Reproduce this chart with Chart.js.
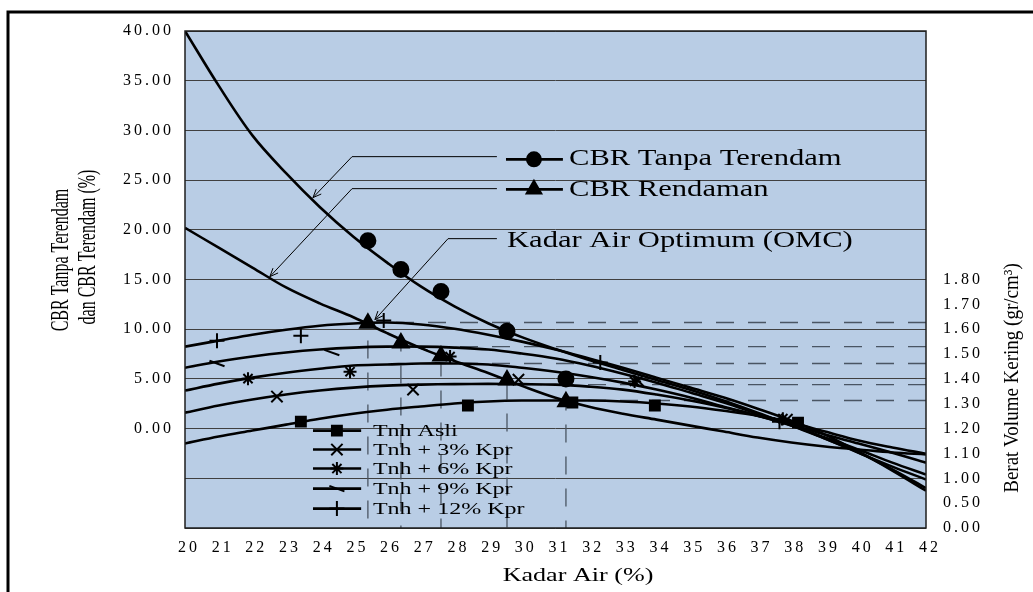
<!DOCTYPE html>
<html>
<head>
<meta charset="utf-8">
<script src="https://cdn.jsdelivr.net/npm/chart.js@4.4.1/dist/chart.umd.min.js"></script>
<style>
  html, body { margin: 0; padding: 0; background: #fff; }
  #wrap { width: 1033px; height: 592px; }
</style>
</head>
<body>
<div id="wrap"><canvas id="cbrChart"></canvas></div>
<script>
// kadar air (%) used for the trendlines
const waterContent = [20, 21, 22, 23, 24, 25, 26, 27, 28, 29, 30, 31, 32, 33, 34, 35, 36, 37, 38, 39, 40, 41, 42];

// CBR trendlines (%), left axis
const cbrUnsoakedTrend = [40.0, 34.5, 29.5, 25.7, 22.3, 19.3, 16.7, 14.3, 12.3, 10.6, 9.2, 8.0, 6.9, 5.9, 4.9, 3.9, 2.8, 1.6, 0.3, -1.0, -2.4, -4.1, -6.0];
const cbrSoakedTrend = [20.2, 18.2, 16.2, 14.2, 12.6, 11.2, 9.6, 8.1, 6.8, 5.6, 4.3, 3.1, 2.2, 1.5, 0.9, 0.3, -0.3, -0.9, -1.4, -1.8, -2.1, -2.4, -2.6];

// berat volume kering trendlines (gr/cm3), right axis
const densAsliTrend = [1.140, 1.168, 1.192, 1.216, 1.240, 1.260, 1.276, 1.289, 1.301, 1.309, 1.313, 1.313, 1.313, 1.309, 1.301, 1.289, 1.272, 1.252, 1.224, 1.188, 1.152, 1.124, 1.099];
const dens3Trend = [1.264, 1.293, 1.317, 1.337, 1.353, 1.365, 1.373, 1.377, 1.379, 1.380, 1.379, 1.377, 1.369, 1.357, 1.337, 1.313, 1.285, 1.252, 1.216, 1.176, 1.140, 1.103, 1.063];
const dens6Trend = [1.353, 1.381, 1.405, 1.425, 1.441, 1.454, 1.458, 1.462, 1.462, 1.458, 1.445, 1.429, 1.409, 1.385, 1.357, 1.325, 1.288, 1.252, 1.212, 1.164, 1.115, 1.063, 1.015];
const dens9Trend = [1.445, 1.470, 1.490, 1.506, 1.518, 1.526, 1.530, 1.530, 1.526, 1.518, 1.502, 1.482, 1.454, 1.421, 1.385, 1.345, 1.305, 1.260, 1.216, 1.160, 1.103, 1.047, 0.995];
const dens12Trend = [1.530, 1.554, 1.578, 1.598, 1.614, 1.623, 1.627, 1.619, 1.602, 1.578, 1.550, 1.518, 1.482, 1.445, 1.405, 1.365, 1.325, 1.280, 1.232, 1.176, 1.107, 1.031, 0.950];

// OMC of each mix (12%, 9%, 6%, 3%, asli) with CBR and max dry density
const omcX = [25.43, 26.41, 27.6, 29.56, 31.31];
const cbrUnsoaked = [18.9, 16.0, 13.8, 9.8, 5.0];
const cbrSoaked = [10.6, 8.6, 7.3, 4.9, 2.7];
const maxDensity = [1.627, 1.530, 1.462, 1.377, 1.313];

// measured density points
const asliX = [23.44, 28.4, 31.5, 33.95, 38.2];
const asliY = [1.228, 1.293, 1.305, 1.293, 1.224];
const kpr3X = [22.73, 26.77, 29.9, 33.45, 37.87];
const kpr3Y = [1.329, 1.357, 1.397, 1.393, 1.236];
const kpr6X = [21.87, 24.9, 27.87, 33.35, 37.75];
const kpr6Y = [1.401, 1.429, 1.490, 1.390, 1.240];
const kpr9X = [20.95, 24.36, 26.97, 37.7];
const kpr9Y = [1.462, 1.506, 1.526, 1.232];
const kpr12X = [20.95, 23.44, 25.9, 32.33, 37.65];
const kpr12Y = [1.554, 1.574, 1.635, 1.466, 1.228];

const soilLabels = ['Tnh Asli', 'Tnh + 3% Kpr', 'Tnh + 6% Kpr', 'Tnh + 9% Kpr', 'Tnh + 12% Kpr'];
const densityTickValues = [0.8, 0.9, 1.0, 1.1, 1.2, 1.3, 1.4, 1.5, 1.6, 1.7, 1.8];
const densityTickLabels = ['0.00', '0.50', '1.00', '1.10', '1.20', '1.30', '1.40', '1.50', '1.60', '1.70', '1.80'];

const SERIF = '"Liberation Serif", "Times New Roman", serif';
Chart.defaults.font.family = SERIF;
Chart.defaults.color = '#000';

const soilStyles = [
    {pointStyle: 'rect', radius: 7, rotation: 0},
    {pointStyle: 'crossRot', radius: 8, rotation: 0},
    {pointStyle: 'star', radius: 6.5, rotation: 0},
    {pointStyle: 'line', radius: 8, rotation: 20},
    {pointStyle: 'cross', radius: 7.5, rotation: 0}
];

function trend(values, axis) {
    return {
        type: 'line', yAxisID: axis, order: 1,
        data: waterContent.map((x, i) => ({x: x, y: values[i]})),
        borderColor: '#000', borderWidth: 2.6, pointRadius: 0, tension: 0.35, fill: false
    };
}

function marks(xs, ys, axis, style) {
    return {
        type: 'scatter', yAxisID: axis, order: 0,
        data: xs.map((x, i) => ({x: x, y: ys[i]})),
        pointStyle: style.pointStyle, pointRadius: style.radius, pointRotation: style.rotation,
        borderColor: '#000', backgroundColor: '#000', borderWidth: 2
    };
}

function omcGuide(i) {
    return {
        type: 'line', yAxisID: 'y2', order: 2,
        data: [{x: 42, y: maxDensity[i]}, {x: omcX[i], y: maxDensity[i]}, {x: omcX[i], y: 0.8}],
        borderColor: '#4a5563', borderWidth: 1.3, borderDash: [18, 14], pointRadius: 0, tension: 0
    };
}

function stretchText(ctx, str, x, y, sx, font, align, baseline) {
    ctx.save();
    ctx.font = font;
    ctx.textAlign = align;
    ctx.textBaseline = baseline;
    ctx.translate(x, y);
    ctx.scale(sx, 1);
    ctx.fillText(str, 0, 0);
    ctx.restore();
}

function upText(ctx, str, x, y, sy, font) {
    ctx.save();
    ctx.font = font;
    ctx.textAlign = 'center';
    ctx.textBaseline = 'middle';
    ctx.translate(x, y);
    ctx.rotate(-Math.PI / 2);
    ctx.scale(1, sy);
    ctx.fillText(str, 0, 0);
    ctx.restore();
}

const overlay = {
    id: 'overlay',
    beforeDraw(chart) {
        const {ctx, chartArea: a} = chart;
        ctx.save();
        ctx.fillStyle = '#b9cde5';
        ctx.fillRect(a.left, a.top, a.right - a.left, a.bottom - a.top);
        ctx.restore();
        // tick labels in the picture are drawn wide
        ctx.letterSpacing = '3px';
    },
    beforeDatasetsDraw(chart) {
        chart.ctx.letterSpacing = '0px';
    },
    afterDraw(chart) {
        const {ctx, chartArea: a, scales} = chart;
        const X = v => scales.x.getPixelForValue(v);
        const Y = v => scales.y.getPixelForValue(v);
        ctx.save();
        ctx.letterSpacing = '0px';

        ctx.strokeStyle = '#1e1e1e';
        ctx.lineWidth = 1.5;
        ctx.strokeRect(a.left, a.top, a.right - a.left, a.bottom - a.top);

        ctx.strokeStyle = '#000';
        ctx.lineWidth = 3;
        ctx.beginPath();
        ctx.moveTo(8, chart.height);
        ctx.lineTo(8, 12);
        ctx.lineTo(chart.width, 12);
        ctx.stroke();

        ctx.fillStyle = '#000';
        stretchText(ctx, 'Kadar Air (%)', 578, 576, 1.45, '18px ' + SERIF, 'center', 'middle');
        upText(ctx, 'CBR Tanpa Terendam', 61, 260, 1.6, '16px ' + SERIF);
        upText(ctx, 'dan CBR Terendam (%)', 88, 247, 1.6, '16px ' + SERIF);
        upText(ctx, 'Berat Volume Kering (gr/cm³)', 1013, 378, 1.1, '19px ' + SERIF);

        // leader lines with arrows
        const leaders = [
            [[29.26, 27.36], [24.96, 27.36], [23.80, 23.24]],
            [[29.26, 24.14], [24.96, 24.14], [22.52, 15.29]],
            [[29.26, 19.11], [27.81, 19.11], [25.64, 10.97]]
        ];
        ctx.lineWidth = 1;
        leaders.forEach(pts => {
            ctx.beginPath();
            pts.forEach((p, i) => i ? ctx.lineTo(X(p[0]), Y(p[1])) : ctx.moveTo(X(p[0]), Y(p[1])));
            ctx.stroke();
            const [px, py] = pts[1];
            const [tx, ty] = pts[2];
            const ang = Math.atan2(Y(ty) - Y(py), X(tx) - X(px));
            ctx.beginPath();
            ctx.moveTo(X(tx) - 9 * Math.cos(ang - 0.4), Y(ty) - 9 * Math.sin(ang - 0.4));
            ctx.lineTo(X(tx), Y(ty));
            ctx.lineTo(X(tx) - 9 * Math.cos(ang + 0.4), Y(ty) - 9 * Math.sin(ang + 0.4));
            ctx.stroke();
        });

        const sample = (x1, x2, y, mx, style) => {
            ctx.lineWidth = 2.6;
            ctx.beginPath();
            ctx.moveTo(x1, y);
            ctx.lineTo(x2, y);
            ctx.stroke();
            ctx.lineWidth = 2;
            Chart.helpers.drawPoint(ctx, {pointStyle: style.pointStyle, radius: style.radius,
                rotation: style.rotation, borderWidth: 2}, mx, y);
        };

        sample(X(29.53), X(31.22), Y(27.09), X(30.36), {pointStyle: 'circle', radius: 7, rotation: 0});
        sample(X(29.53), X(31.22), Y(24.07), X(30.36), {pointStyle: 'triangle', radius: 8.5, rotation: 0});
        const bigFont = '23px ' + SERIF;
        stretchText(ctx, 'CBR Tanpa Terendam', X(31.40), Y(26.56), 1.33, bigFont, 'left', 'alphabetic');
        stretchText(ctx, 'CBR Rendaman', X(31.40), Y(23.44), 1.33, bigFont, 'left', 'alphabetic');
        stretchText(ctx, 'Kadar Air Optimum (OMC)', X(29.56), Y(18.31), 1.33, bigFont, 'left', 'alphabetic');

        // soil legend inside the plot
        const rows = [-0.2, -2.11, -4.02, -6.04, -8.05];
        soilLabels.forEach((label, i) => {
            sample(X(23.80), X(25.23), Y(rows[i]), X(24.51), soilStyles[i]);
            stretchText(ctx, label, X(25.58), Y(rows[i]) + 1, 1.5, '16px ' + SERIF, 'left', 'middle');
        });
        ctx.restore();
    }
};

new Chart(document.getElementById('cbrChart'), {
    type: 'scatter',
    data: {
        datasets: [
            marks(omcX, cbrUnsoaked, 'y', {pointStyle: 'circle', radius: 7.5, rotation: 0}),
            marks(omcX, cbrSoaked, 'y', {pointStyle: 'triangle', radius: 9, rotation: 0}),
            marks(asliX, asliY, 'y2', soilStyles[0]),
            marks(kpr3X, kpr3Y, 'y2', soilStyles[1]),
            marks(kpr6X, kpr6Y, 'y2', soilStyles[2]),
            marks(kpr9X, kpr9Y, 'y2', soilStyles[3]),
            marks(kpr12X, kpr12Y, 'y2', soilStyles[4]),
            trend(cbrUnsoakedTrend, 'y'),
            trend(cbrSoakedTrend, 'y'),
            trend(densAsliTrend, 'y2'),
            trend(dens3Trend, 'y2'),
            trend(dens6Trend, 'y2'),
            trend(dens9Trend, 'y2'),
            trend(dens12Trend, 'y2'),
            omcGuide(0), omcGuide(1), omcGuide(2), omcGuide(3), omcGuide(4)
        ]
    },
    options: {
        responsive: true,
        maintainAspectRatio: false,
        animation: false,
        layout: {padding: {top: 31, left: 0, right: 0, bottom: 0}},
        plugins: {legend: {display: false}, tooltip: {enabled: false}},
        scales: {
            x: {
                type: 'linear', min: 20, max: 42,
                ticks: {stepSize: 1, padding: 10, labelOffset: 4, maxRotation: 0, autoSkip: false,
                    font: {size: 16}},
                grid: {display: false, drawTicks: false},
                border: {display: false},
                afterFit(s) { s.height = 64; }
            },
            y: {
                min: -10, max: 40,
                ticks: {stepSize: 5, padding: 11, font: {size: 16},
                    callback: v => v < 0 ? '' : v.toFixed(2)},
                grid: {color: '#404040', lineWidth: 1, drawTicks: false},
                border: {display: false},
                afterFit(s) { s.width = 185; }
            },
            y2: {
                position: 'right', min: 0.8, max: 2.8,
                afterBuildTicks(s) { s.ticks = densityTickValues.map(v => ({value: v})); },
                ticks: {padding: 17, font: {size: 16}, callback: (v, i) => densityTickLabels[i]},
                grid: {display: false, drawTicks: false},
                border: {display: false},
                afterFit(s) { s.width = 107; }
            }
        }
    },
    plugins: [overlay]
});
</script>
</body>
</html>
